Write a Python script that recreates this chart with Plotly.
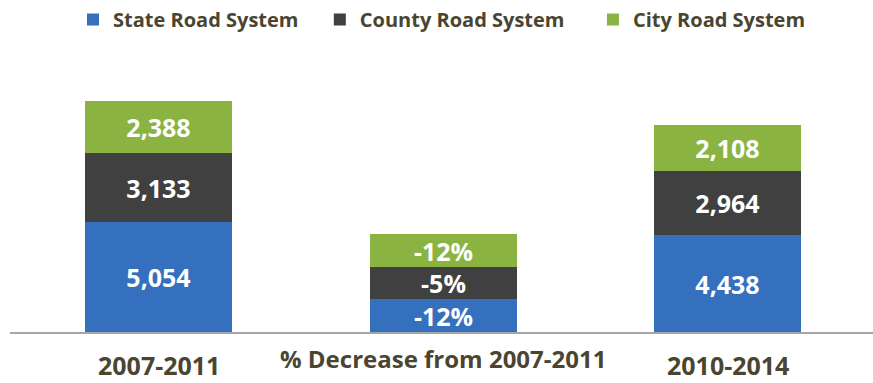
import plotly.graph_objects as go

# Road system totals for the two reporting periods
periods = ["2007-2011", "2010-2014"]
systems = ["State Road System", "County Road System", "City Road System"]
state_vals = [5054, 4438]
county_vals = [3133, 2964]
city_vals = [2388, 2108]

# Display height of each segment in the middle "change" column
change_label = "% Decrease from 2007-2011"
change_height = [1500, 1500, 1500]

colors = ["#3470bd", "#404040", "#8bb342"]
text_color = "#4a4530"
font_family = "Open Sans, Lato, DejaVu Sans, sans-serif"

x_pos = [0, 2]
x_change = 1

# one legend box per series so the entries can be spaced out along the top
legend_ids = ["legend", "legend2", "legend3"]
legend_x = [0.073, 0.359, 0.6755]

fig = go.Figure()
series = [state_vals, county_vals, city_vals]
for i, (name, vals) in enumerate(zip(systems, series)):
    pct = round((vals[1] - vals[0]) / vals[0] * 100)
    xs = [x_pos[0], x_change, x_pos[1]]
    ys = [vals[0], change_height[i], vals[1]]
    labels = [f"{vals[0]:,}", f"{pct}%", f"{vals[1]:,}"]
    fig.add_trace(go.Bar(
        name=name,
        x=xs,
        y=ys,
        text=labels,
        texttemplate="%{text}",
        textposition="inside",
        insidetextanchor="middle",
        constraintext="none",
        textangle=0,
        textfont=dict(family=font_family, size=25, color="white", weight="bold"),
        marker=dict(color=colors[i], line=dict(width=0)),
        width=0.517,
        hoverinfo="skip",
        legend=legend_ids[i],
    ))

# Category labels under the axis
cat_labels = [(x_pos[0], periods[0], 25, -0.117),
              (x_change, change_label, 24, -0.097),
              (x_pos[1], periods[1], 25, -0.117)]
for xv, txt, size, yv in cat_labels:
    fig.add_annotation(
        x=xv, y=yv, xref="x", yref="paper",
        text=txt, showarrow=False, yanchor="middle", xanchor="center",
        font=dict(family=font_family, size=size, color=text_color, weight="bold"),
    )

legend_style = dict(
    orientation="h",
    xanchor="left",
    y=1.124, yanchor="middle",
    font=dict(family=font_family, size=20, color=text_color, weight="bold"),
    itemwidth=30,
    bgcolor="rgba(0,0,0,0)",
)

fig.update_layout(
    width=873,
    height=383,
    margin=dict(l=10, r=0, t=50, b=51),
    barmode="stack",
    bargap=0,
    plot_bgcolor="white",
    paper_bgcolor="white",
    showlegend=True,
    legend=dict(x=legend_x[0], **legend_style),
    legend2=dict(x=legend_x[1], **legend_style),
    legend3=dict(x=legend_x[2], **legend_style),
    xaxis=dict(
        range=[-0.522, 2.511],
        showticklabels=False,
        showgrid=False,
        zeroline=False,
        showline=True,
        linecolor="#a6a6a6",
        linewidth=2,
        ticks="",
        fixedrange=True,
    ),
    yaxis=dict(
        range=[0, 12743],
        visible=False,
        showgrid=False,
        zeroline=False,
        fixedrange=True,
    ),
)

fig.write_html("out.html")
